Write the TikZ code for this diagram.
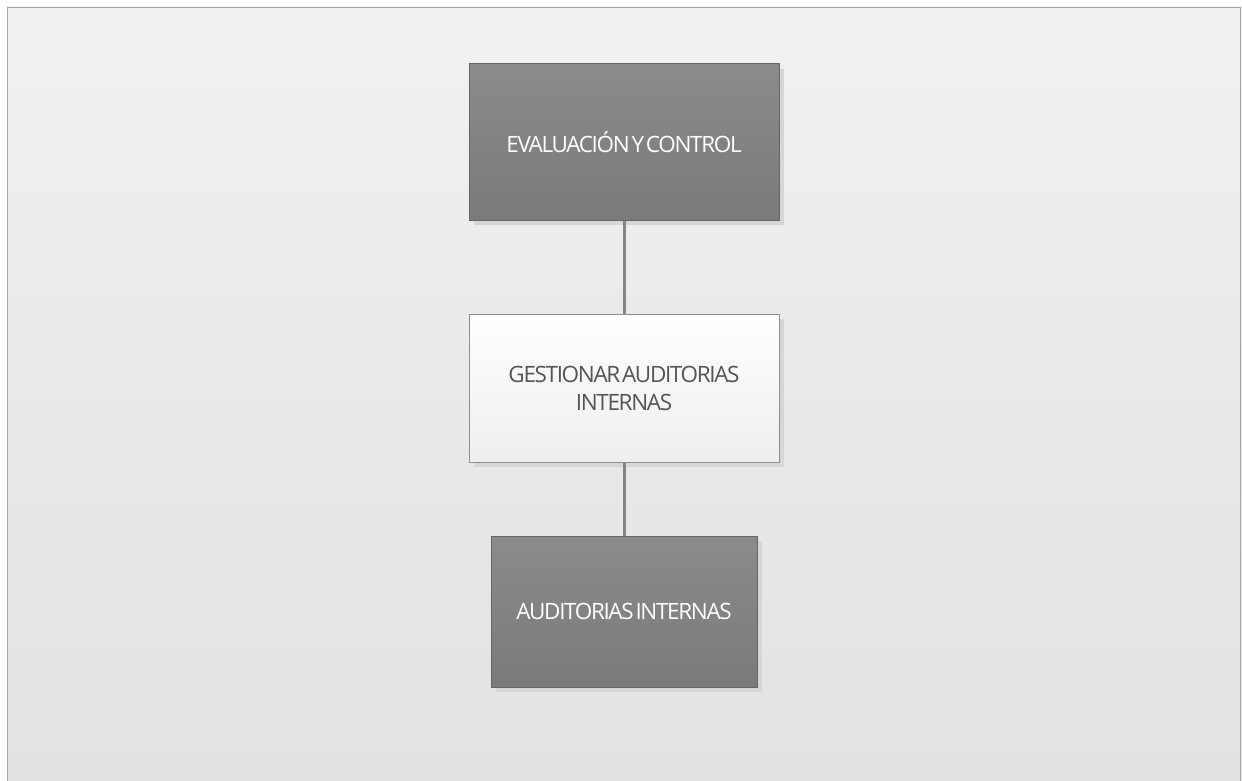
\documentclass[tikz,border=0pt]{standalone}
\usepackage{fontspec}
\setmainfont{Open Sans}[LetterSpace=-6,WordSpace=0.4]
\definecolor{pagetop}{HTML}{F1F1F1}
\definecolor{pagebot}{HTML}{E2E2E2}
\definecolor{frameline}{HTML}{A6A6A6}
\definecolor{darktop}{HTML}{8B8B8B}
\definecolor{darkbot}{HTML}{7A7A7A}
\definecolor{darkline}{HTML}{666666}
\definecolor{lighttop}{HTML}{FFFFFF}
\definecolor{lightbot}{HTML}{EEEEEE}
\definecolor{lightline}{HTML}{8E8E8E}
\definecolor{shadowgray}{HTML}{D6D6D6}
\definecolor{linkgray}{HTML}{858585}
\definecolor{labelgray}{HTML}{555555}
\tikzset{
  x=1pt, y=-1pt,
  procbox/.style={rectangle, inner sep=0pt, line width=1pt, align=center,
    font=\fontsize{22.5}{28}\selectfont},
  darkbox/.style={procbox, draw=darkline, top color=darktop, bottom color=darkbot,
    text=white},
  lightbox/.style={procbox, draw=lightline, top color=lighttop, bottom color=lightbot,
    text=labelgray},
  boxshadow/.style={fill=shadowgray},
  link/.style={draw=linkgray, line width=3pt}
}
\begin{document}
\begin{tikzpicture}
\useasboundingbox (0,0) rectangle (1242,781);
% page background and frame
\shade[top color=pagetop, bottom color=pagebot] (7,7) rectangle (1242,781);
\draw[frameline, line width=1.5pt] (7.5,790) -- (7.5,7.5) -- (1240.5,7.5) -- (1240.5,790);
% drop shadows behind the boxes
\fill[boxshadow] (474,69) rectangle (784,225);
\fill[boxshadow] (474,319) rectangle (784,467);
\fill[boxshadow] (496,541) rectangle (762,692);
% process boxes
\node[darkbox, minimum width=310pt, minimum height=156pt] (eval) at (624,142)
  {EVALUACIÓN Y CONTROL};
\node[lightbox, minimum width=310pt, minimum height=148pt] (gest) at (624,388)
  {GESTIONAR AUDITORIAS\\INTERNAS};
\node[darkbox, minimum width=266pt, minimum height=151pt] (aud) at (624,611.5)
  {AUDITORIAS INTERNAS};
% connectors
\draw[link] (eval.south) -- (gest.north);
\draw[link] (gest.south) -- (aud.north);
\end{tikzpicture}
\end{document}
